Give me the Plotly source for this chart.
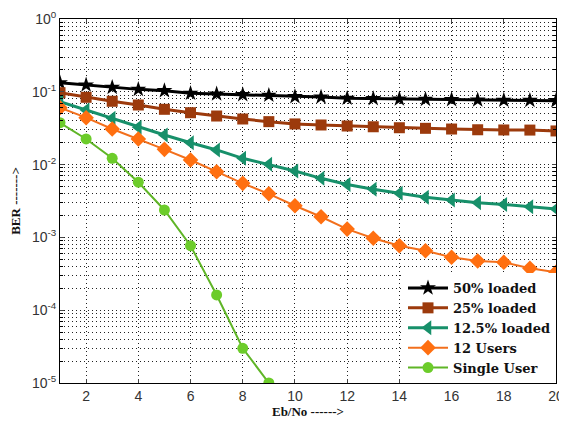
import plotly.graph_objects as go

ebno = list(range(1, 21))

ber_50 = [0.133, 0.124, 0.115, 0.108, 0.1035, 0.0953, 0.0933, 0.0912, 0.0895, 0.0857,
          0.0845, 0.0814, 0.0805, 0.0796, 0.0788, 0.0780, 0.0771, 0.0765, 0.0762, 0.0755]
ber_25 = [0.0972, 0.0840, 0.0741, 0.0659, 0.0575, 0.0516, 0.0465, 0.0423, 0.0389, 0.0362,
          0.0350, 0.0339, 0.0331, 0.0321, 0.0315, 0.0308, 0.0301, 0.0299, 0.0298, 0.0290]
ber_125 = [0.0731, 0.0562, 0.0433, 0.0325, 0.0255, 0.0200, 0.0159, 0.0122, 0.0101, 0.00817,
           0.00648, 0.00533, 0.00458, 0.00404, 0.00356, 0.00327, 0.00300, 0.00283, 0.00264, 0.00246]
ber_12u = [0.0605, 0.0441, 0.0308, 0.0225, 0.0162, 0.01157, 0.00798, 0.00553, 0.00397, 0.00272,
           0.00192, 0.00130, 0.000972, 0.000769, 0.000657, 0.000533, 0.000474, 0.000455, 0.000376, 0.000332]
ebno_single = [1, 2, 3, 4, 5, 6, 7, 8, 9]
ber_single = [0.0376, 0.0225, 0.0122, 0.00573, 0.00238, 0.000769, 0.000162, 3.0e-5, 1.0e-5]

names = ["50% loaded", "25% loaded", "12.5% loaded", "12 Users", "Single User"]
x_ticks = [2, 4, 6, 8, 10, 12, 14, 16, 18, 20]
y_tickvals = [1, 0.1, 0.01, 0.001, 0.0001, 0.00001]
y_ticktext = ["10<sup>0</sup>", "10<sup>-1</sup>", "10<sup>-2</sup>", "10<sup>-3</sup>",
              "10<sup>-4</sup>", "10<sup>-5</sup>"]

fig = go.Figure()

styles = [
    (ebno, ber_50, "#000000", "#000000", "star", 12, 3),
    (ebno, ber_25, "#9c3a0c", "#9c3a0c", "square", 11, 3),
    (ebno, ber_125, "#17906a", "#17906a", "triangle-left", 13, 3),
    (ebno, ber_12u, "#f26f1c", "#ff6f10", "diamond", 12, 2),
    (ebno_single, ber_single, "#5fb526", "#6ccc2a", "circle", 11, 2),
]
for (xs, ys, lc, mc, sym, ms, lw), name in zip(styles, names):
    fig.add_trace(go.Scatter(
        x=xs, y=ys, name=name, mode="lines+markers",
        line=dict(color=lc, width=lw),
        marker=dict(symbol=sym, size=ms, color=mc, line=dict(width=0)),
    ))

grid_common = dict(showgrid=True, gridcolor="#222222", griddash="1px,3px", gridwidth=1)

# the page body has an 8px default margin, so the figure is sized to fit the window
fig.update_layout(
    width=559, height=414,
    margin=dict(l=52, r=11, t=11, b=39),
    paper_bgcolor="white", plot_bgcolor="white",
    font=dict(family="Liberation Sans", size=14, color="#333333"),
    showlegend=True,
    legend=dict(
        x=1, y=0, xanchor="right", yanchor="bottom",
        bgcolor="white", borderwidth=0,
        font=dict(family="DejaVu Serif", size=13, color="#111111", weight="bold"),
        itemwidth=40, tracegroupgap=0,
    ),
    xaxis=dict(
        range=[1, 20], tickvals=x_ticks, ticks="inside", ticklen=4,
        showline=True, linecolor="black", linewidth=1, mirror="ticks",
        zeroline=False, ticklabeloverflow="allow", automargin=False,
        title=dict(text="<b>Eb/No ------></b>", standoff=2,
                   font=dict(family="Liberation Serif", size=13, color="#111111")),
        **grid_common,
    ),
    yaxis=dict(
        type="log", range=[-5, 0], tickvals=y_tickvals, ticktext=y_ticktext,
        ticks="inside", ticklen=4, automargin=False,
        showline=True, linecolor="black", linewidth=1, mirror="ticks",
        zeroline=False,
        minor=dict(dtick="D1", showgrid=True, gridcolor="#222222", griddash="1px,3px",
                   gridwidth=1, ticks="inside", ticklen=3, tickcolor="black"),
        title=dict(text="<b>BER -------></b>", standoff=8,
                   font=dict(family="Liberation Serif", size=13, color="#111111")),
        **grid_common,
    ),
)

fig.write_html("out.html")
